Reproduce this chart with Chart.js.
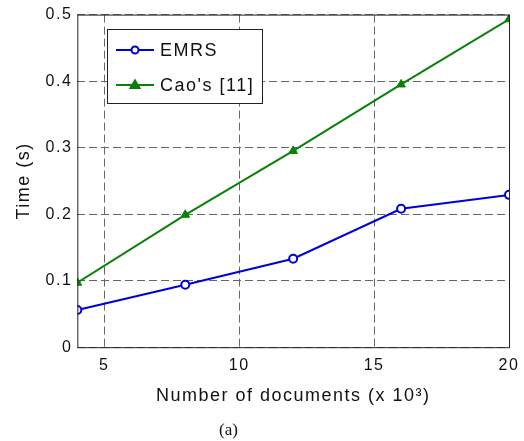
<!DOCTYPE html>
<html lang="en">
<head>
  <meta charset="UTF-8">
  <title>Time vs number of documents</title>
  <script src="https://cdn.jsdelivr.net/npm/chart.js"></script>
  <style>
    body { margin: 0; background: #fff; }
    #wrap { position: relative; width: 524px; height: 441px; }
    #caption {
      position: absolute;
      left: 219px;
      top: 420px;
      font: 17px 'Liberation Serif', 'Times New Roman', serif;
      color: #111;
    }
  </style>
</head>
<body>
  <div id="wrap">
    <canvas id="chart" width="524" height="441"></canvas>
    <div id="caption">(a)</div>
  </div>
  <script>
    // data
    const docs = [4, 8, 12, 16, 20];
    const emrs = [0.056, 0.094, 0.133, 0.208, 0.229];
    const cao = [0.097, 0.199, 0.295, 0.395, 0.493];
    const xTicks = [5, 10, 15, 20];
    const yTicks = [0, 0.1, 0.2, 0.3, 0.4, 0.5];

    const font = "'Liberation Sans', Arial, sans-serif";
    const gridDash = [8, 4];

    // matlab text is a bit wider than Arial, spread the letters a little
    const spacingPlugin = {
      id: 'spacing',
      beforeUpdate(chart) { chart.ctx.letterSpacing = '1.5px'; },
      beforeDraw(chart) { chart.ctx.letterSpacing = '1.5px'; }
    };

    // matlab-style box + legend inside the axes
    const boxPlugin = {
      id: 'box',
      afterDatasetsDraw(chart) {
        const { ctx, chartArea: a } = chart;
        ctx.save();
        ctx.strokeStyle = '#222';
        ctx.lineWidth = 1;
        ctx.strokeRect(a.left + 0.5, a.top + 0.5, a.right - a.left, a.bottom - a.top);

        // legend
        const lx = 107, ly = 29, lw = 155, lh = 74;
        ctx.fillStyle = '#fff';
        ctx.fillRect(lx, ly, lw, lh);
        ctx.strokeRect(lx + 0.5, ly + 0.5, lw, lh);
        const rows = [50, 85];
        chart.data.datasets.forEach((ds, i) => {
          const y = rows[i];
          ctx.strokeStyle = ds.borderColor;
          ctx.lineWidth = 2;
          ctx.beginPath();
          ctx.moveTo(116, y);
          ctx.lineTo(154, y);
          ctx.stroke();
          ctx.fillStyle = ds.pointBackgroundColor;
          ctx.beginPath();
          if (ds.pointStyle === 'triangle') {
            ctx.moveTo(135, y - 4.5);
            ctx.lineTo(139.5, y + 3);
            ctx.lineTo(130.5, y + 3);
            ctx.closePath();
          } else {
            ctx.arc(135, y, 3.5, 0, Math.PI * 2);
          }
          ctx.fill();
          ctx.stroke();
          ctx.fillStyle = '#111';
          ctx.font = '18px ' + font;
          ctx.textBaseline = 'middle';
          ctx.fillText(ds.label, 160, y + 1);
        });
        ctx.restore();
      }
    };

    new Chart(document.getElementById('chart'), {
      type: 'line',
      data: {
        labels: docs,
        datasets: [
          {
            label: 'EMRS',
            data: emrs,
            borderColor: '#0000dd',
            backgroundColor: '#0000dd',
            pointBackgroundColor: '#ffffff',
            pointBorderColor: '#0000dd',
            pointStyle: 'circle',
            pointRadius: 4,
            pointBorderWidth: 2,
            borderWidth: 2,
            tension: 0
          },
          {
            label: "Cao's [11]",
            data: cao,
            borderColor: '#0a800a',
            backgroundColor: '#0a800a',
            pointBackgroundColor: '#0a800a',
            pointBorderColor: '#0a800a',
            pointStyle: 'triangle',
            pointRadius: 5,
            pointBorderWidth: 1,
            borderWidth: 2,
            tension: 0
          }
        ]
      },
      options: {
        responsive: false,
        animation: false,
        layout: { padding: { left: 13, right: 15, top: 10, bottom: 34 } },
        plugins: {
          legend: { display: false },
          tooltip: { enabled: false }
        },
        scales: {
          x: {
            type: 'linear',
            min: 4,
            max: 20,
            afterBuildTicks: axis => { axis.ticks = xTicks.map(v => ({ value: v })); },
            afterFit: axis => { axis.paddingRight = 0; axis.paddingLeft = 0; },
            grid: { color: '#666', drawTicks: false },
            border: { display: false, dash: gridDash },
            ticks: { color: '#111', font: { family: font, size: 16 }, padding: 9, maxRotation: 0 },
            title: {
              display: true,
              text: 'Number of documents (x 10\u00B3)',
              color: '#111',
              font: { family: font, size: 18 },
              padding: { top: 1, bottom: 0 }
            }
          },
          y: {
            min: 0,
            max: 0.5,
            afterBuildTicks: axis => { axis.ticks = yTicks.map(v => ({ value: v })); },
            grid: { color: '#666', drawTicks: false },
            border: { display: false, dash: gridDash },
            ticks: {
              color: '#111',
              font: { family: font, size: 16 },
              padding: 5,
              callback: v => String(Math.round(v * 10) / 10)
            },
            title: {
              display: true,
              text: 'Time (s)',
              color: '#111',
              font: { family: font, size: 18 },
              padding: { top: 0, bottom: 6 }
            }
          }
        }
      },
      plugins: [spacingPlugin, boxPlugin]
    });
  </script>
</body>
</html>
